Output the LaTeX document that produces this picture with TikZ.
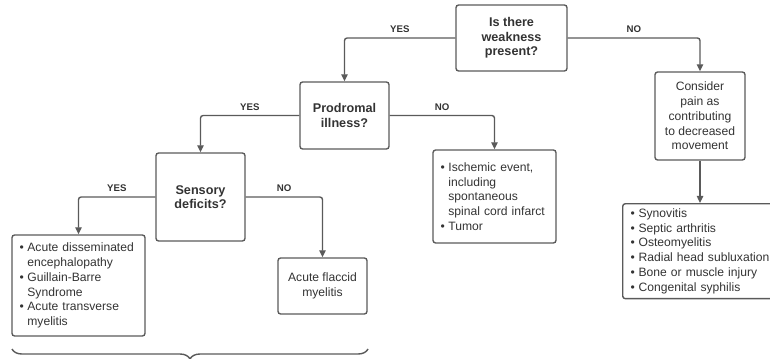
\documentclass[tikz,border=0pt]{standalone}
\usepackage{fontspec}
\setmainfont{Liberation Sans}
\usepackage{xcolor}
\usetikzlibrary{arrows.meta,decorations.pathreplacing}
\definecolor{txtgray}{HTML}{333333}
\definecolor{linegray}{HTML}{5A5A5A}
\newcommand{\bul}{\makebox[0.65em][l]{\textbullet}}
\newcommand{\ind}{\hspace*{0.65em}}

\begin{document}
\begin{tikzpicture}[x=0.02cm, y=-0.02cm,
  box/.style={draw=linegray, line width=0.8pt, rounded corners=1.5pt, text=txtgray,
    inner sep=0pt, align=center, font=\fontsize{6.9}{8.4}\selectfont},
  ques/.style={box, font=\bfseries\fontsize{7.2}{8.3}\selectfont},
  lst/.style={box, align=left, inner xsep=0.15cm, inner ysep=0pt,
    execute at begin node={\hyphenpenalty=10000}},
  arr/.style={draw=linegray, line width=0.8pt, rounded corners=1.5pt,
    -{Triangle[length=4pt, width=3.6pt]}},
  lbl/.style={above=1.5pt, text=txtgray, inner sep=1pt,
    font=\bfseries\fontsize{5.5}{6}\selectfont}]
  \clip (0,0) rectangle (770,358);

  \node[ques, minimum width=2.22cm, minimum height=1.32cm] (weak) at (511.5,38) {Is there\\weakness\\present?};
  \node[ques, minimum width=1.78cm, minimum height=1.34cm] (prod) at (344.5,115.5) {Prodromal\\illness?};
  \node[ques, minimum width=1.78cm, minimum height=1.76cm] (sens) at (200.5,197) {Sensory\\deficits?};
  \node[box, minimum width=1.80cm, minimum height=1.76cm] (cons) at (700,116) {Consider\\pain as\\contributing\\to decreased\\movement};
  \node[lst, text width=2.16cm, minimum height=1.86cm] (isch) at (494.5,196.5)
    {\bul Ischemic event,\\\ind including\\\ind spontaneous\\\ind spinal cord infarct\\\bul Tumor};
  \node[lst, text width=2.36cm, minimum height=2.02cm] (adem) at (78.5,285.5)
    {\bul Acute disseminated\\\ind encephalopathy\\\bul Guillain-Barre\\\ind Syndrome\\\bul Acute transverse\\\ind myelitis};
  \node[box, minimum width=1.78cm, minimum height=1.12cm] (afm) at (322.5,286) {Acute flaccid\\myelitis};
  \node[lst, text width=2.9cm, minimum height=1.90cm, inner xsep=0.16cm, anchor=north west] (pain) at (622,203)
    {\bul Synovitis\\\bul Septic arthritis\\\bul Osteomyelitis\\\bul Radial head subluxation\\\bul Bone or muscle injury\\\bul Congenital syphilis};

  \draw[arr] (weak.west) -| node[lbl, pos=0.25] {YES} (prod.north);
  \draw[arr] (weak.east) -| node[lbl, pos=0.25] {NO} (cons.north);
  \draw[arr] (prod.west) -| node[lbl, pos=0.25] {YES} (sens.north);
  \draw[arr] (prod.east) -| node[lbl, pos=0.25] {NO} (isch.north);
  \draw[arr] (sens.west) -| node[lbl, pos=0.25] {YES} (adem.north);
  \draw[arr] (sens.east) -| node[lbl, pos=0.25] {NO} (afm.north);
  \draw[arr] (cons.south) -- (cons.south |- pain.north);

  \coordinate (bl) at (12,349);
  \coordinate (br) at (368,349);
  \draw[linegray, line width=0.8pt, decorate, decoration={brace, mirror, amplitude=5.7pt}] (bl) -- (br);
\end{tikzpicture}
\end{document}
